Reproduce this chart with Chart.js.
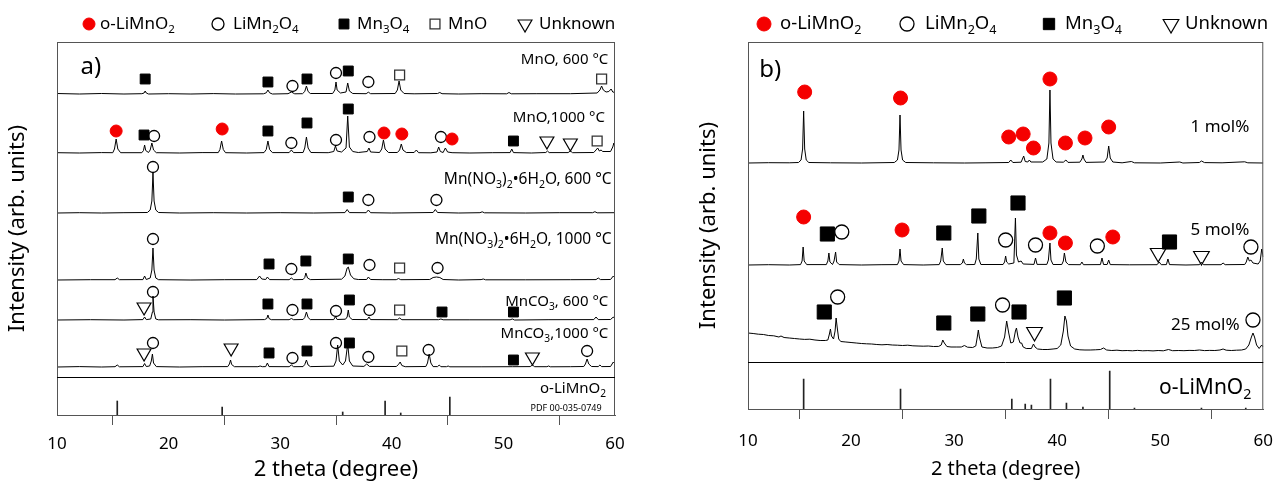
<!DOCTYPE html>
<html>
<head>
<meta charset="utf-8">
<script src="https://cdn.jsdelivr.net/npm/chart.js@4.4.1/dist/chart.umd.min.js"></script>
<style>
  html, body { margin: 0; padding: 0; background: #fff; }
  #wrap { position: relative; width: 1285px; height: 486px; }
  #chartA { position: absolute; left: 0; top: 0; }
  #chartB { position: absolute; left: 640px; top: 0; }
</style>
</head>
<body>
<div id="wrap">
  <canvas id="chartA" width="640" height="486"></canvas>
  <canvas id="chartB" width="645" height="486"></canvas>
</div>
<script>
const xTicks = [10, 20, 30, 40, 50, 60];

// ---- panel a) : flat [2theta, height above own baseline] pairs ----
const namesA = ['MnO, 600 °C', 'MnO,1000 °C', 'Mn(NO_3)_2•6H_2O, 600 °C', 'Mn(NO_3)_2•6H_2O, 1000 °C', 'MnCO_3, 600 °C', 'MnCO_3,1000 °C'];
const offsetsA = [321, 262, 202, 135, 95, 48];

const mnO600 = [10,0.5, 12,0, 14,0.5, 16,0, 17.6,0.3, 17.8,1, 17.9,3, 18.0,1, 18.2,0, 20,0.3, 22,0, 24,0.4, 26,0,
  28.5,0.2, 28.75,1.2, 28.9,4, 29.05,1.2, 29.3,0, 30.7,0.3, 31.0,2, 31.3,0.2, 32.0,0.3, 32.2,2.5, 32.35,8, 32.5,2.5, 32.7,0.5,
  34.7,0.5, 34.9,4, 35.0,12, 35.1,4, 35.4,1, 35.9,2, 36.05,11, 36.2,3, 36.5,0.5, 37.7,0.3, 37.9,1.8, 38.1,0.3,
  40.3,0.5, 40.5,4, 40.65,13, 40.8,4, 41.1,0.5, 42,0.2, 44.1,0.5, 44.3,1.5, 44.5,0.3, 46,0, 48,0.3, 50.3,0.2, 50.5,1.5, 50.7,0.2,
  53,0.3, 56,0.3, 58.4,1, 58.65,4, 58.8,8, 58.95,4, 59.2,2, 59.45,2.5, 59.65,5, 59.8,2, 60,1.5];

const mnO1000 = [10,0.3, 12,0, 14,0.4, 15.0,0.3, 15.15,4, 15.3,14, 15.45,4, 15.7,0.3, 17.6,0.3, 17.75,2.5, 17.85,8, 17.95,2.5,
  18.2,0.5, 18.35,3, 18.5,10, 18.65,3, 18.9,0.3, 21,0, 23,0.4, 24.45,0.4, 24.6,3.5, 24.75,12, 24.9,3.5, 25.1,0.3, 27,0,
  28.55,0.4, 28.75,3.5, 28.9,12, 29.05,3.5, 29.3,0.4, 30.8,0.4, 31.0,3, 31.2,0.4, 32.05,0.5, 32.2,5, 32.35,16, 32.5,5, 32.75,0.5,
  34.3,0.3, 34.8,1.5, 34.95,7, 35.1,2, 35.5,1, 35.9,5, 36.05,37, 36.2,6, 36.5,1.5, 37.0,0.5, 37.8,1.5, 37.95,5, 38.1,1,
  38.9,0.5, 39.1,4, 39.25,13, 39.4,4, 39.7,0.5, 40.5,0.5, 40.7,3, 40.85,9, 41.0,3, 41.3,0.5, 42.0,0.5, 42.2,3, 42.4,0.3,
  43.5,0.2, 44.05,1, 44.2,6, 44.35,1.5, 44.6,0.5, 44.8,5, 45.0,1, 45.4,0.3, 47,0, 49,0.3, 50.6,0.4, 50.75,4, 50.9,0.4,
  52.5,0, 53.8,0.5, 53.95,2, 54.1,0.4, 55.8,0.4, 56.0,2, 56.2,0.3, 58.1,0.5, 58.3,3, 58.45,5, 58.6,2, 58.75,3, 58.9,1.5,
  59.6,1.5, 59.8,6, 59.9,10, 60,7];

const no3600 = [10,0, 12,0.3, 14,0, 16,0.3, 18.1,0.5, 18.35,3, 18.5,12, 18.6,40, 18.7,12, 18.85,3, 19.1,0.5, 21,0, 24,0.3,
  27,0, 30,0.3, 33,0, 35.8,0.4, 36.0,3.5, 36.2,0.4, 37.7,0.3, 37.9,3, 38.1,0.3, 40,0, 43.7,0.5, 43.9,3.5, 44.1,0.5, 46,0,
  47.9,0.3, 48.1,1.2, 48.3,0.2, 52,0, 55,0.3, 58.0,0.3, 58.2,1.3, 58.4,0.2, 60,0.3];

const no31000 = [10,0, 13,0.3, 15.2,0.3, 15.4,2, 15.6,0.3, 17.7,0.4, 17.85,4, 18.0,0.5, 18.35,2, 18.5,10, 18.6,32, 18.7,10,
  18.85,2, 19.1,0.3, 22,0, 25,0.3, 27.9,0.4, 28.15,4, 28.35,1, 28.7,0.5, 28.85,3, 29.05,0.4, 30.8,0.3, 31.0,2, 31.2,0.3,
  32.05,0.5, 32.2,2.5, 32.3,7, 32.45,2, 32.7,0.4, 35.5,0.8, 35.8,4, 36.0,12, 36.1,13, 36.3,5, 36.6,1.2, 37.0,0.5,
  37.75,0.5, 37.9,3, 38.1,0.5, 39.2,0.3, 40.4,0.3, 40.6,1.5, 40.8,0.3, 43.4,0.5, 43.7,2.5, 44.0,3, 44.3,2.5, 44.6,0.5,
  46,0, 48.0,0.4, 48.2,1, 48.4,0.2, 52,0.2, 56,0.3, 58.3,0.4, 58.5,2, 58.7,0.4, 59.6,0.5, 59.85,4, 60,2];

const co3600 = [10,0, 13,0.3, 16,0, 17.7,0.4, 17.85,3, 18.0,0.4, 18.4,1, 18.55,8, 18.6,24, 18.7,8, 18.85,1, 19.1,0.2,
  22,0.3, 25,0, 28.6,0.4, 28.8,1.5, 28.9,5, 29.0,1.5, 29.2,0.3, 30.8,0.3, 31.0,1.5, 31.2,0.3, 32.05,0.5, 32.2,2.5,
  32.35,8, 32.5,2.5, 32.7,0.4, 34.8,0.4, 34.95,3.5, 35.1,0.5, 35.85,0.8, 36.0,3, 36.1,10, 36.2,3, 36.45,0.5, 37.8,0.4,
  37.95,3, 38.1,0.4, 40.5,0.3, 40.7,2, 40.9,0.3, 44.2,0.3, 44.4,1, 44.6,0.2, 47,0.2, 50.6,0.2, 50.8,1, 51,0, 54,0.3,
  58.1,0.4, 58.3,3, 58.5,0.4, 59.6,0.5, 59.85,3, 60,1];

const co31000 = [10,0, 12,0.4, 14,0, 15.2,0.3, 15.4,2, 15.6,0.2, 17.7,0.4, 17.85,3.5, 18.0,0.5, 18.3,1, 18.45,6, 18.55,13,
  18.65,4, 18.9,0.4, 21,0, 23,0.3, 25.3,0.4, 25.45,3, 25.55,7, 25.65,2.5, 25.9,0.3, 28.0,0.3, 28.2,1, 28.4,0.3, 28.7,0.4,
  28.85,4, 29.0,0.4, 30.8,0.3, 31.0,2, 31.2,0.3, 32.05,0.4, 32.2,2.5, 32.35,7, 32.5,2, 32.7,0.4, 34.8,0.8, 35.0,6,
  35.15,22, 35.3,6, 35.6,2, 35.85,6, 36.05,23, 36.2,6, 36.5,1, 37.5,0.6, 37.75,3, 38.0,0.6, 40.4,0.5, 40.6,2.5, 40.75,5,
  40.9,1.5, 41.2,0.3, 43.05,0.5, 43.2,4, 43.35,13, 43.5,4, 43.7,0.4, 44.1,0.4, 44.25,2, 44.4,0.3, 44.9,0.3, 45.05,1,
  45.2,0.2, 48,0.2, 50.8,0.3, 52.4,0.4, 52.6,2, 52.8,0.3, 53.9,0.3, 54.05,1, 54.2,0.2, 56,0.3, 57.2,0.5, 57.35,3, 57.5,8,
  57.65,3, 57.9,0.5, 58.5,0.4, 58.65,2, 58.8,0.4, 59.6,0.5, 59.85,5, 60,3];

// phase marks, flat [2theta, y] pairs (same y units as the chart)
const aLiMnO2 = [15.3,284, 24.8,286, 39.3,282, 40.9,281, 45.4,276];
const aLiMn2O4 = [31.1,329, 35.0,342, 37.9,333, 18.7,279, 31.0,272, 35.0,275, 38.0,278, 44.4,278, 18.6,248, 37.9,215,
  44.0,215, 18.6,176, 31.0,146, 38.0,150, 44.1,147, 18.6,123, 31.1,105, 35.0,104, 38.0,105, 18.6,72, 31.1,57, 35.0,72,
  37.9,58, 43.3,65, 57.5,64];
const aMn3O4 = [17.9,336, 28.9,333, 32.4,336, 36.1,344, 17.8,280, 28.9,284, 32.4,292, 36.1,306, 50.9,274, 36.1,218,
  29.0,151, 32.3,154, 36.1,156, 28.9,111, 32.4,111, 36.2,115, 44.5,103, 50.9,103, 29.0,62, 32.4,64, 36.2,72, 50.9,55];
const aMnO = [40.7,340, 58.8,336, 58.4,274, 40.7,147, 40.7,105, 40.9,64];
const aUnknown = [53.9,274, 56.0,272, 17.8,108, 17.8,62, 25.6,67, 52.6,58];

const refPosA = [15.4, 24.8, 35.6, 39.4, 40.8, 45.2];
const refHeightA = [14, 8, 3, 14, 2, 18];

// ---- panel b) ----
const namesB = ['1 mol%', '5 mol%', '25 mol%'];
const offsetsB = [246, 144, 58];

const mol1 = [10,0, 12,0.3, 14,0.2, 14.9,0.5, 15.15,3, 15.3,14, 15.4,52, 15.5,14, 15.65,3, 15.9,0.5, 18,0.2, 21,0,
  24.2,0.5, 24.5,3, 24.65,13, 24.75,48, 24.85,13, 25.0,3, 25.3,0.5, 28,0.2, 31,0, 33,0.2, 35.3,0.5, 35.5,3, 35.7,0.5,
  36.5,0.8, 36.75,7, 36.9,1.5, 37.15,1, 37.3,3, 37.45,1, 38.6,1, 39.0,4, 39.2,20, 39.3,73, 39.4,20, 39.6,4, 39.9,1,
  40.6,0.8, 40.85,3, 41.05,0.6, 42.2,0.8, 42.4,4, 42.5,8, 42.6,4, 42.8,0.6, 44.6,1, 44.85,5, 45.0,17, 45.15,5, 45.4,1,
  46.3,0.2, 47.2,1.5, 47.5,0.2, 50,0, 51.9,1, 52.2,0, 53.8,0.5, 54.0,2, 54.3,0.4, 56,0.2, 58.2,1.2, 58.5,0.2, 60,0];

const mol5 = [10,0, 12,0.3, 14,0, 15.1,0.4, 15.25,4, 15.35,18, 15.45,4, 15.7,0.4, 17.6,0.4, 17.75,4, 17.85,12, 17.95,3,
  18.2,0.5, 18.35,4, 18.5,13, 18.6,3, 18.85,0.4, 21,0, 23,0.3, 24.5,0.4, 24.65,4, 24.75,16, 24.85,4, 25.1,0.4, 27,0,
  28.55,0.4, 28.7,4, 28.85,17, 28.95,4, 29.2,0.4, 30.6,0.4, 30.8,2, 30.9,6, 31.0,2, 31.2,0.4, 32.0,0.5, 32.15,6, 32.3,32,
  32.4,6, 32.6,0.5, 34.75,0.5, 34.9,3, 35.0,9, 35.1,3, 35.3,1, 35.8,2, 35.95,47, 36.05,10, 36.25,3, 36.5,4, 36.7,1,
  37.75,0.6, 37.9,7, 38.05,0.6, 39.0,0.6, 39.15,5, 39.3,22, 39.4,5, 39.6,0.5, 40.45,0.5, 40.6,4, 40.7,12, 40.85,3,
  41.1,0.4, 42.25,0.3, 42.4,3, 42.55,0.3, 44.2,0.4, 44.35,7, 44.5,0.5, 44.85,0.5, 45.0,5, 45.15,0.4, 47,0.2, 49.7,0.3,
  49.9,3, 50.1,0.3, 50.6,0.4, 50.75,6, 50.9,0.4, 52.5,0, 53.8,0.3, 54.0,3, 54.2,0.3, 55.9,0.3, 56.1,2, 56.3,0.3,
  58.2,0.5, 58.35,3, 58.5,8, 58.65,4, 58.8,5, 59.0,2, 59.5,1, 59.7,4, 59.85,16, 60,8];

const mol25 = [10,18, 10.5,17.5, 11,16.8, 11.5,16.5, 12,15.5, 12.5,15.2, 13,14, 13.2,15, 13.5,13.5, 14,13, 14.5,12.5,
  15,12, 15.5,11.6, 16,11.8, 16.5,11, 17,10.5, 17.5,10.5, 17.75,11, 17.9,17, 18.0,22, 18.1,15, 18.3,12, 18.45,20,
  18.55,33, 18.65,24, 18.8,12, 19.0,9.5, 19.5,9, 20,8.5, 20.5,8, 21,7.5, 21.5,7.2, 22,7, 22.5,6.5, 23,6.2, 23.5,6.5,
  24,6, 24.5,5.8, 25,5.5, 25.5,5.8, 26,5.2, 26.5,5, 27,4.8, 27.5,5, 28,4.5, 28.5,4.6, 28.75,6, 28.9,11, 29.05,8,
  29.3,4.5, 29.7,4, 30.2,4, 30.7,4, 31.0,5.5, 31.3,3.8, 31.8,3.5, 32.1,5, 32.25,14, 32.35,21, 32.45,14, 32.7,4, 33.2,3,
  33.7,3, 34.2,3.5, 34.6,5, 34.9,14, 35.1,30, 35.3,18, 35.5,8, 35.75,9, 35.95,20, 36.05,23, 36.2,14, 36.4,8, 36.55,8,
  36.7,4, 37.0,2.5, 37.5,2.5, 37.7,7, 37.85,4, 38.1,2, 38.6,1.5, 39.1,1.5, 39.6,2, 40.0,2.5, 40.35,6, 40.6,20, 40.75,35,
  40.9,30, 41.05,15, 41.3,5, 41.7,2, 42.2,1.2, 42.7,1, 43.2,1, 43.7,1.2, 44.2,1.5, 44.5,3, 44.8,1, 45.3,0.5, 45.8,0.8,
  46.3,0.3, 46.8,0.5, 47.3,0.2, 47.8,0.6, 48.3,0.2, 48.8,0.4, 49.3,0.1, 49.8,0.5, 50.3,0.2, 50.8,1.5, 51.2,0.3, 51.8,0.5,
  52.3,0.3, 52.8,0.6, 53.3,0.5, 53.8,1, 54.3,0.4, 54.8,0.6, 55.3,0.5, 55.8,1, 56.1,2, 56.4,0.8, 56.9,0.5, 57.4,0.8,
  57.9,1, 58.3,2, 58.6,6, 58.85,14, 59.0,18, 59.15,14, 59.35,6, 59.6,2.5, 59.85,6, 60,4];

const bLiMnO2 = [15.5,317, 24.8,311, 35.3,272, 36.7,275, 37.7,261, 39.3,330, 40.8,266, 42.7,271, 45.0,282,
  15.4,192, 24.95,179, 39.3,176, 40.8,166, 45.4,172];
const bLiMn2O4 = [19.1,177, 35.0,169, 37.9,164, 43.9,163, 58.8,162, 18.7,112, 34.7,104, 59.0,89];
const bMn3O4 = [17.7,175, 29.0,176, 32.4,193, 36.2,206, 50.9,167, 17.4,97, 29.0,86, 32.3,95, 36.3,97, 40.7,111];
const bUnknown = [49.8,156, 54.0,153, 37.8,77];

const refPosB = [15.4, 24.8, 35.6, 36.9, 37.5, 39.35, 40.9, 42.5, 45.1, 47.5, 54.0, 58.3];
const refHeightB = [30, 20, 10, 5, 4, 30, 6, 2, 38, 1, 1, 1];

// ---- styles ----
const FONT = "'Noto Sans', 'Open Sans', sans-serif";
Chart.defaults.font.family = FONT;
Chart.defaults.color = '#000';
const RED = 'rgb(245,0,0)';
const phaseStyles = {
  liMnO2:  { pointStyle: 'circle', bg: RED, border: RED, r: [6, 7], bw: 1 },
  liMn2O4: { pointStyle: 'circle', bg: 'rgba(0,0,0,0)', border: '#000', r: [5.5, 7], bw: 1.3 },
  mn3O4:   { pointStyle: 'rect', bg: '#000', border: '#000', r: [7, 10], bw: 1 },
  mnO:     { pointStyle: 'rect', bg: 'rgba(0,0,0,0)', border: '#333', r: [7, 10], bw: 1.3 },
  unknown: { pointStyle: 'triangle', rotation: 180, bg: 'rgba(0,0,0,0)', border: '#000', r: [8, 9], bw: 1.2 }
};

function pairs(flat, off) {
  const out = [];
  for (let i = 0; i < flat.length; i += 2) out.push({ x: flat[i], y: flat[i + 1] + off });
  return out;
}

// text with "_3" style subscripts
function drawRich(ctx, str, x, y, size, align) {
  const segs = str.split(/(_\d)/).filter(s => s).map(p => p[0] === '_' ? { t: p.slice(1), sub: true } : { t: p, sub: false });
  let w = 0;
  segs.forEach(s => {
    ctx.font = (s.sub ? size * 0.68 : size) + 'px ' + FONT;
    s.w = ctx.measureText(s.t).width;
    w += s.w;
  });
  let cx = align === 'right' ? x - w : (align === 'center' ? x - w / 2 : x);
  ctx.textAlign = 'left';
  ctx.textBaseline = 'middle';
  ctx.fillStyle = '#000';
  segs.forEach(s => {
    ctx.font = (s.sub ? size * 0.68 : size) + 'px ' + FONT;
    ctx.fillText(s.t, cx, s.sub ? y + size * 0.32 : y);
    cx += s.w;
  });
}

function decorPlugin(o) {
  return {
    id: 'decor',
    afterDraw(chart) {
      const ctx = chart.ctx;
      const a = chart.chartArea;
      const xs = chart.scales.x, ys = chart.scales.y;
      ctx.save();
      // frame + reference separator
      ctx.strokeStyle = '#555';
      ctx.lineWidth = 1;
      ctx.strokeRect(a.left + 0.5, a.top + 0.5, a.right - a.left - 1, a.bottom - a.top);
      const sy = Math.round(ys.getPixelForValue(o.sep)) + 0.5;
      ctx.strokeStyle = '#000';
      ctx.beginPath();
      ctx.moveTo(a.left, sy);
      ctx.lineTo(a.right, sy);
      ctx.stroke();
      // legend
      o.legend.forEach(it => {
        const st = phaseStyles[it.phase];
        ctx.fillStyle = st.bg;
        ctx.strokeStyle = st.border;
        ctx.lineWidth = st.bw;
        Chart.helpers.drawPoint(ctx, { pointStyle: st.pointStyle, radius: it.r, rotation: st.rotation || 0, borderWidth: st.bw }, it.x, o.legendY);
        drawRich(ctx, it.text, it.tx, o.legendY, o.legendSize, 'left');
      });
      // in-plot labels (positions in data units)
      o.labels.forEach(l => {
        drawRich(ctx, l.text, xs.getPixelForValue(l.x), ys.getPixelForValue(l.y), l.size, l.align);
      });
      ctx.restore();
    }
  };
}

function makeChart(id, c) {
  const datasets = [];
  c.patterns.forEach((p, i) => datasets.push({
    type: 'line', data: pairs(p, c.offsets[i]), borderColor: '#000', borderWidth: 1,
    pointRadius: 0, fill: false, tension: 0, showLine: true, order: 3
  }));
  datasets.push({
    type: 'bar', data: c.refPos.map((x, i) => ({ x: x, y: c.refHeight[i] })),
    backgroundColor: '#222', barThickness: 1, order: 2
  });
  c.phases.forEach(ph => {
    const st = phaseStyles[ph.key];
    datasets.push({
      type: 'scatter', data: pairs(ph.data, 0), showLine: false, order: 1,
      pointStyle: st.pointStyle, rotation: st.rotation || 0, pointRadius: ph.r || st.r[c.big],
      backgroundColor: st.bg, borderColor: st.border, borderWidth: st.bw
    });
  });
  return new Chart(document.getElementById(id), {
    type: 'scatter',
    data: { datasets: datasets },
    options: {
      responsive: false,
      animation: false,
      events: [],
      layout: { padding: c.padding },
      plugins: { legend: { display: false }, tooltip: { enabled: false } },
      scales: {
        x: {
          type: 'linear', min: 10, max: 60, offset: false,
          afterBuildTicks: s => { s.ticks = xTicks.map(v => ({ value: v })); },
          afterFit: s => { s.height = c.xHeight; },
          grid: { drawOnChartArea: false, drawTicks: true, tickLength: 10, color: '#555' },
          border: { display: true, color: '#555' },
          ticks: { font: { size: 17 }, padding: c.tickPad, maxRotation: 0 },
          title: { display: true, text: '2 theta (degree)', font: { size: c.xTitleSize }, padding: { top: 2, bottom: c.xTitlePad } }
        },
        y: {
          type: 'linear', min: 0, max: c.yMax,
          afterFit: s => { s.width = c.yWidth; },
          grid: { display: false },
          border: { display: false },
          ticks: { display: false },
          title: { display: true, text: 'Intensity (arb. units)', font: { size: 22 }, padding: c.yTitlePad }
        }
      }
    },
    plugins: [decorPlugin(c.decor)]
  });
}

makeChart('chartA', {
  patterns: [mnO600, mnO1000, no3600, no31000, co3600, co31000],
  offsets: offsetsA,
  refPos: refPosA, refHeight: refHeightA,
  phases: [
    { key: 'liMnO2', data: aLiMnO2 }, { key: 'liMn2O4', data: aLiMn2O4 }, { key: 'mn3O4', data: aMn3O4 },
    { key: 'mnO', data: aMnO }, { key: 'unknown', data: aUnknown }
  ],
  big: 0, yMax: 373, yWidth: 57, xHeight: 71, tickPad: 9, xTitleSize: 22, xTitlePad: 3, yTitlePad: 5,
  padding: { left: 0, right: 25, top: 42, bottom: 0 },
  decor: {
    sep: 38, legendY: 24, legendSize: 17,
    legend: [
      { phase: 'liMnO2', x: 89, r: 6, tx: 100, text: 'o-LiMnO_2' },
      { phase: 'liMn2O4', x: 218, r: 6, tx: 233, text: 'LiMn_2O_4' },
      { phase: 'mn3O4', x: 344, r: 7, tx: 357, text: 'Mn_3O_4' },
      { phase: 'mnO', x: 435, r: 7, tx: 448, text: 'MnO' },
      { phase: 'unknown', x: 525, r: 8, tx: 539, text: 'Unknown' }
    ],
    labels: [
      { text: 'a)', x: 12.1, y: 348, size: 24, align: 'left' },
      { text: namesA[0], x: 59.4, y: 355, size: 15, align: 'right' },
      { text: namesA[1], x: 59.1, y: 297, size: 15, align: 'right' },
      { text: namesA[2], x: 59.7, y: 235, size: 15.5, align: 'right' },
      { text: namesA[3], x: 59.7, y: 175, size: 15.5, align: 'right' },
      { text: namesA[4], x: 59.4, y: 113, size: 15, align: 'right' },
      { text: namesA[5], x: 59.4, y: 81, size: 15, align: 'right' },
      { text: 'o-LiMnO_2', x: 59.2, y: 26, size: 15, align: 'right' },
      { text: 'PDF 00-035-0749', x: 58.8, y: 7, size: 9, align: 'right' }
    ]
  }
});

makeChart('chartB', {
  patterns: [mol1, mol5, mol25],
  offsets: offsetsB,
  refPos: refPosB, refHeight: refHeightB,
  phases: [
    { key: 'liMnO2', data: bLiMnO2 }, { key: 'liMn2O4', data: bLiMn2O4 }, { key: 'mn3O4', data: bMn3O4 },
    { key: 'unknown', data: bUnknown }
  ],
  big: 1, yMax: 367, yWidth: 108, xHeight: 77, tickPad: 12, xTitleSize: 20, xTitlePad: 5, yTitlePad: 56,
  padding: { left: 0, right: 18, top: 42, bottom: 0 },
  decor: {
    sep: 47, legendY: 24, legendSize: 18.5,
    legend: [
      { phase: 'liMnO2', x: 124, r: 7, tx: 140, text: 'o-LiMnO_2' },
      { phase: 'liMn2O4', x: 267, r: 7, tx: 285, text: 'LiMn_2O_4' },
      { phase: 'mn3O4', x: 409, r: 8, tx: 425, text: 'Mn_3O_4' },
      { phase: 'unknown', x: 531, r: 9, tx: 545, text: 'Unknown' }
    ],
    labels: [
      { text: 'b)', x: 11.1, y: 339, size: 24, align: 'left' },
      { text: namesB[0], x: 58.65, y: 282, size: 17, align: 'right' },
      { text: namesB[1], x: 58.65, y: 179, size: 17, align: 'right' },
      { text: namesB[2], x: 57.7, y: 84, size: 17, align: 'right' },
      { text: 'o-LiMnO_2', x: 58.85, y: 21, size: 21, align: 'right' }
    ]
  }
});
</script>
</body>
</html>
